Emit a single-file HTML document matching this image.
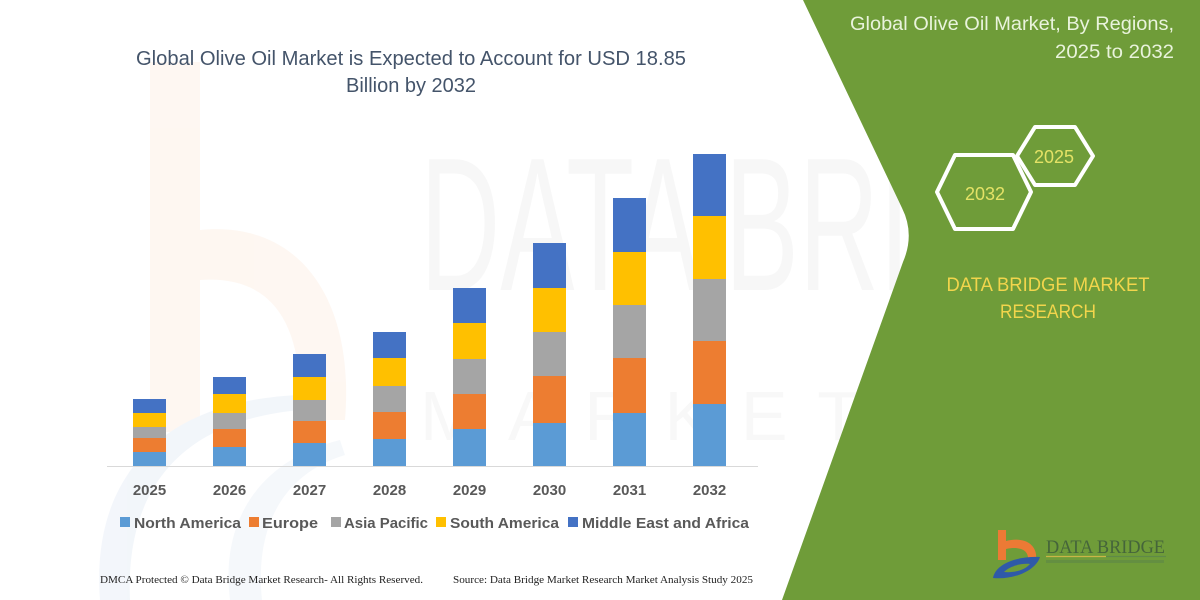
<!DOCTYPE html>
<html><head><meta charset="utf-8"><style>
html,body{margin:0;padding:0;background:#fff;}
svg{display:block;}
text{font-family:"Liberation Sans",sans-serif;}
</style></head><body>
<svg width="1200" height="600" viewBox="0 0 1200 600" xmlns="http://www.w3.org/2000/svg">
<rect width="1200" height="600" fill="#ffffff"/>
<!-- watermark -->
<g opacity="0.45">
<rect x="150" y="62" width="50" height="370" fill="#fdeee2"/>
<path d="M200,230 C300,220 355,300 345,420 L300,420 C305,320 270,275 200,280 Z" fill="#fdeee2"/>
<path d="M100,600 C90,470 170,400 300,395 L300,410 C190,420 125,480 130,600 Z" fill="#e4ecf6"/>
<path d="M230,600 C220,520 260,460 340,440 L345,455 C280,475 255,530 262,600 Z" fill="#eaf0f8"/>
</g>
<text x="420" y="290" font-size="190" fill="#f7f7f7" textLength="490" lengthAdjust="spacingAndGlyphs">DATA BRI</text>
<text x="420" y="440" font-size="70" fill="#f8f8f8" textLength="480" lengthAdjust="spacing" letter-spacing="40">MARKET</text>
<!-- green panel -->
<path d="M803,0 L902,208 Q915,234 903,262 L782,600 L1200,600 L1200,0 Z" fill="#6f9c39"/>
<!-- title -->
<text x="411" y="65" font-size="20" fill="#44546a" text-anchor="middle" textLength="550" lengthAdjust="spacingAndGlyphs">Global Olive Oil Market is Expected to Account for USD 18.85</text>
<text x="411" y="92" font-size="20" fill="#44546a" text-anchor="middle" textLength="130" lengthAdjust="spacingAndGlyphs">Billion by 2032</text>
<!-- axis -->
<line x1="107" y1="466.5" x2="758" y2="466.5" stroke="#d9d9d9" stroke-width="1"/>
<!-- bars -->
<g>
<rect x="133" y="399" width="33" height="14" fill="#4472c4"/><rect x="133" y="413" width="33" height="14" fill="#ffc000"/><rect x="133" y="427" width="33" height="11" fill="#a5a5a5"/><rect x="133" y="438" width="33" height="14" fill="#ed7d31"/><rect x="133" y="452" width="33" height="14" fill="#5b9bd5"/>
<rect x="213" y="377" width="33" height="17" fill="#4472c4"/><rect x="213" y="394" width="33" height="19" fill="#ffc000"/><rect x="213" y="413" width="33" height="16" fill="#a5a5a5"/><rect x="213" y="429" width="33" height="18" fill="#ed7d31"/><rect x="213" y="447" width="33" height="19" fill="#5b9bd5"/>
<rect x="293" y="354" width="33" height="23" fill="#4472c4"/><rect x="293" y="377" width="33" height="23" fill="#ffc000"/><rect x="293" y="400" width="33" height="21" fill="#a5a5a5"/><rect x="293" y="421" width="33" height="22" fill="#ed7d31"/><rect x="293" y="443" width="33" height="23" fill="#5b9bd5"/>
<rect x="373" y="332" width="33" height="26" fill="#4472c4"/><rect x="373" y="358" width="33" height="28" fill="#ffc000"/><rect x="373" y="386" width="33" height="26" fill="#a5a5a5"/><rect x="373" y="412" width="33" height="27" fill="#ed7d31"/><rect x="373" y="439" width="33" height="27" fill="#5b9bd5"/>
<rect x="453" y="288" width="33" height="35" fill="#4472c4"/><rect x="453" y="323" width="33" height="36" fill="#ffc000"/><rect x="453" y="359" width="33" height="35" fill="#a5a5a5"/><rect x="453" y="394" width="33" height="35" fill="#ed7d31"/><rect x="453" y="429" width="33" height="37" fill="#5b9bd5"/>
<rect x="533" y="243" width="33" height="45" fill="#4472c4"/><rect x="533" y="288" width="33" height="44" fill="#ffc000"/><rect x="533" y="332" width="33" height="44" fill="#a5a5a5"/><rect x="533" y="376" width="33" height="47" fill="#ed7d31"/><rect x="533" y="423" width="33" height="43" fill="#5b9bd5"/>
<rect x="613" y="198" width="33" height="54" fill="#4472c4"/><rect x="613" y="252" width="33" height="53" fill="#ffc000"/><rect x="613" y="305" width="33" height="53" fill="#a5a5a5"/><rect x="613" y="358" width="33" height="55" fill="#ed7d31"/><rect x="613" y="413" width="33" height="53" fill="#5b9bd5"/>
<rect x="693" y="154" width="33" height="62" fill="#4472c4"/><rect x="693" y="216" width="33" height="63" fill="#ffc000"/><rect x="693" y="279" width="33" height="62" fill="#a5a5a5"/><rect x="693" y="341" width="33" height="63" fill="#ed7d31"/><rect x="693" y="404" width="33" height="62" fill="#5b9bd5"/>
</g>
<!-- year labels -->
<g font-size="15" font-weight="bold" fill="#595959" text-anchor="middle">
<text x="149.5" y="495">2025</text><text x="229.5" y="495">2026</text><text x="309.5" y="495">2027</text><text x="389.5" y="495">2028</text>
<text x="469.5" y="495">2029</text><text x="549.5" y="495">2030</text><text x="629.5" y="495">2031</text><text x="709.5" y="495">2032</text>
</g>
<!-- legend -->
<g font-size="15" font-weight="bold" fill="#595959">
<rect x="120" y="517" width="10" height="10" fill="#5b9bd5"/><text x="134" y="528" textLength="107" lengthAdjust="spacingAndGlyphs">North America</text>
<rect x="249" y="517" width="10" height="10" fill="#ed7d31"/><text x="262" y="528" textLength="56" lengthAdjust="spacingAndGlyphs">Europe</text>
<rect x="331" y="517" width="10" height="10" fill="#a5a5a5"/><text x="344" y="528" textLength="84" lengthAdjust="spacingAndGlyphs">Asia Pacific</text>
<rect x="436" y="517" width="10" height="10" fill="#ffc000"/><text x="450" y="528" textLength="109" lengthAdjust="spacingAndGlyphs">South America</text>
<rect x="568" y="517" width="10" height="10" fill="#4472c4"/><text x="582" y="528" textLength="167" lengthAdjust="spacingAndGlyphs">Middle East and Africa</text>
</g>
<!-- footer -->
<g font-size="10.5" fill="#222">
<text x="100" y="583" style="font-family:'Liberation Serif',serif" textLength="323" lengthAdjust="spacingAndGlyphs">DMCA Protected © Data Bridge Market Research-  All Rights Reserved.</text>
<text x="453" y="583" style="font-family:'Liberation Serif',serif" textLength="300" lengthAdjust="spacingAndGlyphs">Source: Data Bridge Market Research  Market Analysis Study 2025</text>
</g>
<!-- right panel text -->
<text x="1174" y="30" font-size="19" fill="#e9f3dc" text-anchor="end" textLength="324" lengthAdjust="spacingAndGlyphs">Global Olive Oil Market, By Regions,</text>
<text x="1174" y="58" font-size="19" fill="#e9f3dc" text-anchor="end" textLength="119" lengthAdjust="spacingAndGlyphs">2025 to 2032</text>
<!-- hexagons -->
<polygon points="937,192 955,155 1013,155 1031,192 1013,229 955,229" fill="none" stroke="#ffffff" stroke-width="4" stroke-linejoin="round"/>
<polygon points="1017,156 1035,127 1075,127 1093,156 1075,185 1035,185" fill="none" stroke="#ffffff" stroke-width="4" stroke-linejoin="round"/>
<text x="985" y="200" font-size="18" fill="#e4e266" text-anchor="middle">2032</text>
<text x="1054" y="163" font-size="18" fill="#e4e266" text-anchor="middle">2025</text>
<!-- DBMR text -->
<text x="1048" y="291" font-size="19" fill="#f2d54c" text-anchor="middle" textLength="203" lengthAdjust="spacingAndGlyphs">DATA BRIDGE MARKET</text>
<text x="1048" y="318" font-size="19" fill="#f2d54c" text-anchor="middle" textLength="96" lengthAdjust="spacingAndGlyphs">RESEARCH</text>
<!-- logo -->
<g>
<rect x="998" y="530" width="8" height="30" fill="#ec7a35"/>
<path d="M1006,541 C1025,536 1038,545 1036,560 L1028,560 C1029,550 1020,546 1006,549 Z" fill="#ec7a35"/>
<path d="M993,578 C995,565 1015,556 1040,557 C1036,570 1015,580 993,578 Z" fill="#2f5aa8"/>
<path d="M1004,572 C1010,566 1022,563 1030,564 C1025,570 1014,573 1004,572 Z" fill="#6f9c39"/>
<text x="1046" y="553" font-size="19" fill="#45653a" style="font-family:'Liberation Serif',serif" textLength="119" lengthAdjust="spacingAndGlyphs">DATA BRIDGE</text>
<line x1="1046" y1="556.5" x2="1106" y2="556.5" stroke="#c9b548" stroke-width="1.2"/>
<line x1="1106" y1="556.5" x2="1166" y2="556.5" stroke="#5f8a48" stroke-width="1.2"/>
<rect x="1046" y="560" width="118" height="3" fill="#5f8a45" opacity="0.7"/>
</g>
</svg>
</body></html>
